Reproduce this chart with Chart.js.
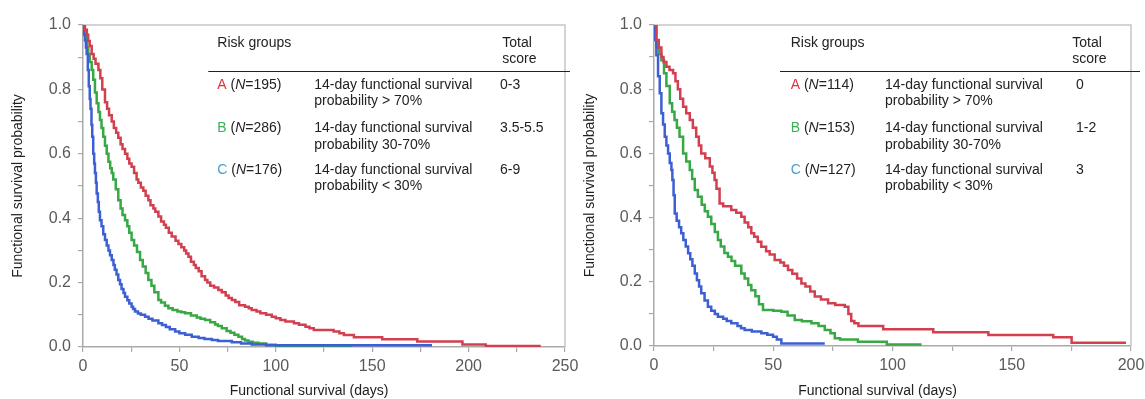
<!DOCTYPE html>
<html><head><meta charset="utf-8">
<script src="https://cdn.jsdelivr.net/npm/chart.js@4.4.1/dist/chart.umd.min.js"></script>
<style>
html,body{margin:0;padding:0;background:#fff;overflow:hidden}
#wrap{position:relative;width:1145px;height:399px}
canvas{position:absolute;top:0}
</style></head>
<body><div id="wrap">
<canvas id="c1" width="590" height="399" style="left:0;width:590px;height:399px"></canvas>
<canvas id="c2" width="573" height="399" style="left:572px;width:573px;height:399px"></canvas>
</div>
<script>
// ---- data: [days, survival probability] step points ----
const leftA = [[0,1],[1,0.985],[2,0.97],[2.7,0.95],[3.5,0.935],[4.5,0.91],[5.5,0.895],[6.5,0.88],[8,0.86],[9,0.835],
 [10,0.8],[11.4,0.76],[12.5,0.74],[13.5,0.72],[14.9,0.7],[16,0.68],[17.2,0.665],[18.3,0.65],[19.5,0.63],[20.5,0.615],
 [21.8,0.6],[23,0.585],[24,0.57],[25.2,0.56],[26.5,0.54],[27.8,0.52],[28.7,0.51],[30,0.495],[31.3,0.485],[32.5,0.47],
 [33.9,0.456],[35,0.44],[36.5,0.43],[37.5,0.42],[39.1,0.405],[40.5,0.39],[42,0.38],[43,0.37],[44.5,0.355],[46,0.343],
 [48,0.33],[49.5,0.32],[51,0.31],[52.5,0.3],[53.5,0.29],[54.7,0.28],[56,0.265],[57.5,0.255],[58.5,0.245],[60,0.235],
 [61.5,0.22],[63.3,0.208],[64.5,0.2],[66,0.19],[68,0.185],[70.2,0.177],[72,0.17],[74,0.16],[75.5,0.152],[77.2,0.146],
 [79,0.14],[81,0.13],[84,0.125],[86,0.12],[87.5,0.115],[90,0.11],[92,0.105],[95,0.1],[97.9,0.094],[100,0.089],
 [102.4,0.084],[105,0.079],[109.4,0.074],[112,0.069],[115.4,0.063],[117.5,0.058],[119.7,0.053],[130,0.048],[133,0.043],[135.3,0.037],
 [140.5,0.03],[155.2,0.024],[173.4,0.017],[196.8,0.008],[208.9,0.003],[237.4,0.003]];
const leftB = [[0,1],[0.8,0.97],[1.5,0.95],[2.2,0.93],[2.75,0.91],[3.5,0.885],[4.5,0.86],[5.3,0.83],[6.2,0.79],[7.1,0.757],
 [8,0.73],[8.8,0.705],[9.6,0.68],[10.5,0.653],[11.4,0.625],[12.3,0.6],[13.2,0.575],[14.1,0.555],[14.9,0.54],[15.7,0.52],
 [17,0.49],[18.3,0.456],[19.5,0.43],[20.5,0.41],[21.8,0.394],[23,0.375],[24,0.355],[25.2,0.332],[26.5,0.315],[28,0.295],
 [29.6,0.27],[31,0.25],[32.5,0.23],[33.9,0.208],[35.5,0.19],[37,0.17],[39.1,0.146],[40.5,0.138],[42.5,0.128],[44.3,0.12],
 [46.5,0.115],[49,0.11],[51,0.108],[53,0.105],[56,0.098],[59,0.092],[61,0.088],[63.3,0.084],[66,0.077],[68.5,0.07],
 [70,0.065],[72,0.058],[74.5,0.05],[76.5,0.044],[78.5,0.038],[80.6,0.032],[82.5,0.025],[84,0.02],[85.8,0.016],[88,0.013],
 [91,0.011],[95,0.007],[100,0.0035],[139.7,0.0035]];
const leftC = [[0,1],[0.5,0.97],[1,0.953],[1.5,0.93],[1.9,0.91],[2.5,0.86],[3,0.81],[3.5,0.77],[3.9,0.74],[4.4,0.69],
 [4.8,0.653],[5.3,0.6],[5.8,0.57],[6.2,0.54],[6.7,0.51],[7.1,0.477],[7.7,0.45],[8.2,0.42],[8.8,0.394],[9.6,0.375],
 [10.5,0.35],[11.4,0.332],[12.3,0.315],[13.2,0.3],[14,0.285],[14.9,0.27],[15.8,0.255],[16.5,0.24],[17.4,0.225],[18.3,0.208],
 [19.2,0.195],[20,0.18],[21,0.168],[21.8,0.156],[23,0.145],[24,0.135],[25.2,0.125],[26,0.118],[27,0.11],[28.5,0.104],
 [30,0.1],[32.2,0.094],[34,0.088],[36,0.082],[39.1,0.074],[41,0.068],[43,0.062],[45,0.055],[47.8,0.048],[50,0.043],
 [53,0.038],[56.4,0.032],[60,0.028],[63,0.025],[66.8,0.022],[70,0.019],[77.2,0.015],[82,0.011],[87.5,0.008],[95,0.0057],
 [181,0.0057]];
const rightA = [[0,1],[1,0.953],[2,0.93],[3.1,0.9],[4,0.885],[5.2,0.87],[6.5,0.86],[8,0.85],[9,0.825],[10,0.8],
 [11,0.77],[12.2,0.745],[13.5,0.725],[15,0.704],[16.3,0.68],[17.7,0.652],[18.8,0.625],[19.8,0.6],[21.5,0.585],[23.4,0.559],
 [24.5,0.54],[25.4,0.517],[26.2,0.49],[27.5,0.444],[29,0.435],[32.4,0.424],[34.5,0.415],[36.6,0.403],[38,0.385],[39.5,0.37],
 [40.8,0.351],[42,0.34],[43.5,0.325],[45,0.309],[47,0.295],[48.5,0.285],[50.6,0.268],[53,0.26],[54.5,0.25],[56.2,0.237],
 [58,0.225],[60,0.21],[61.8,0.195],[63.5,0.185],[65.5,0.17],[67.4,0.154],[70,0.145],[73,0.133],[76,0.128],[80,0.122],
 [81.5,0.1],[82.7,0.078],[84,0.071],[85.7,0.062],[96.1,0.052],[117.1,0.043],[140.2,0.034],[167.4,0.027],[175.1,0.01],[197.9,0.01]];
const rightB = [[0,1],[1,0.93],[2,0.91],[3.1,0.89],[4.2,0.85],[5.2,0.81],[6.6,0.756],[7.6,0.73],[8.6,0.704],[9.6,0.68],
 [10.7,0.652],[12.2,0.6],[13.5,0.575],[15,0.548],[16,0.52],[17.1,0.486],[18.4,0.465],[20,0.44],[21.3,0.42],[22.6,0.403],
 [24,0.38],[25.5,0.355],[26.8,0.33],[28,0.31],[29.5,0.29],[31,0.278],[32.5,0.265],[34,0.25],[36.6,0.226],[38,0.21],
 [39.5,0.19],[40.8,0.174],[42.5,0.155],[44,0.13],[45.7,0.112],[50,0.11],[53.4,0.107],[56,0.095],[59,0.081],[62,0.077],
 [66,0.071],[69,0.062],[71.6,0.05],[74,0.04],[75.8,0.024],[78,0.02],[85.5,0.013],[97.6,0.005],[112.2,0.005]];
const rightC = [[0,1],[0.3,0.953],[1,0.906],[1.7,0.84],[2.4,0.787],[3.1,0.725],[3.8,0.69],[4.5,0.652],[5.2,0.625],[5.9,0.6],
 [6.6,0.57],[7.3,0.548],[7.7,0.517],[8.2,0.47],[8.7,0.413],[9.5,0.39],[10.5,0.37],[11.4,0.351],[12.3,0.33],[13.3,0.31],
 [14.3,0.289],[15.2,0.27],[16.1,0.25],[17.1,0.226],[18,0.205],[18.9,0.185],[19.8,0.164],[21.2,0.142],[22.6,0.122],[24,0.11],
 [25.5,0.1],[26.8,0.091],[29,0.085],[30.5,0.078],[32.4,0.071],[35,0.062],[36.5,0.055],[38,0.05],[41,0.045],[45,0.04],
 [47.5,0.035],[49.9,0.029],[51.5,0.02],[53.4,0.008],[71.6,0.008]];

const groupLetters = ['A','B','C'];
const leftN = [195,286,176];
const rightN = [114,153,127];
const descLine1 = '14-day functional survival';
const descLine2 = ['probability > 70%','probability 30-70%','probability < 30%'];
const leftScores = ['0-3','3.5-5.5','6-9'];
const rightScores = ['0','1-2','3'];
const leftXMax = 250, rightXMax = 200;
const yTitle = 'Functional survival probability';
const xTitle = 'Functional survival (days)';

// ---- styles ----
const curveColors = ['#d23f4f','#37a845','#3c5fd4'];
const letterColors = ['#e0323c','#3aae5c','#4a9fd0'];
const FONT = '"Liberation Sans", Arial, sans-serif';
const textColor = '#222';

function pts(arr){ return arr.map(p => ({x:p[0], y:p[1]})); }

function tablePlugin(cfg){
  return {
    id:'riskTable',
    afterDraw(chart){
      const ctx = chart.ctx;
      ctx.save();
      ctx.textBaseline = 'middle';
      ctx.textAlign = 'left';
      const f = '14px ' + FONT;
      ctx.font = f; ctx.fillStyle = textColor;
      ctx.fillText('Risk groups', cfg.c1, 43.3);
      ctx.fillText('Total', cfg.c3h, 43.3);
      ctx.fillText('score', cfg.c3h, 59.5);
      ctx.strokeStyle = '#222'; ctx.lineWidth = 1.2;
      ctx.beginPath(); ctx.moveTo(cfg.l0, 71.5); ctx.lineTo(cfg.l1, 71.5); ctx.stroke();
      const rows = [[85,101.6],[128.3,144.8],[170.2,186.6]];
      for (let i=0;i<3;i++){
        let x = cfg.c1; const y = rows[i][0];
        ctx.font = f; ctx.fillStyle = letterColors[i];
        ctx.fillText(groupLetters[i], x, y); x += ctx.measureText(groupLetters[i]).width;
        ctx.fillStyle = textColor;
        ctx.fillText(' (', x, y); x += ctx.measureText(' (').width;
        ctx.font = 'italic 14px ' + FONT;
        ctx.fillText('N', x, y); x += ctx.measureText('N').width;
        ctx.font = f;
        ctx.fillText('=' + cfg.n[i] + ')', x, y);
        ctx.fillText(descLine1, cfg.c2, y);
        ctx.fillText(descLine2[i], cfg.c2, rows[i][1]);
        ctx.fillText(cfg.scores[i], cfg.c3, y);
      }
      // x axis title
      const ca = chart.chartArea;
      ctx.font = '14px ' + FONT; ctx.fillStyle = textColor; ctx.textAlign = 'center';
      ctx.fillText(xTitle, (ca.left + ca.right)/2 - 15, 391);
      ctx.restore();
    }
  };
}

const framePlugin = {
  id:'frame',
  beforeDatasetsDraw(chart){
    const {ctx, chartArea:ca} = chart;
    ctx.save();
    ctx.strokeStyle = '#c6c6c6'; ctx.lineWidth = 1.5;
    ctx.beginPath();
    ctx.moveTo(ca.left, ca.top); ctx.lineTo(ca.right, ca.top); ctx.lineTo(ca.right, ca.bottom);
    ctx.stroke();
    ctx.restore();
  }
};

function makeChart(id, series, xMax, yW, xH, padRight, table){
  const order = [0,2,1]; // A on top, then C, then B
  const datasets = order.map(i => ({
    data: pts(series[i]),
    borderColor: curveColors[i],
    borderWidth: 2.5,
    pointRadius: 0,
    stepped: true,
    fill: false,
    tension: 0
  }));
  return new Chart(document.getElementById(id), {
    type:'line',
    data:{datasets},
    options:{
      responsive:false, animation:false, devicePixelRatio:1,
      layout:{padding:{top:25,left:0,right:padRight,bottom:0}},
      plugins:{legend:{display:false}, tooltip:{enabled:false}},
      scales:{
        x:{
          type:'linear', min:0, max:xMax,
          border:{display:true, color:'#aaaaaa', width:1.5},
          grid:{drawOnChartArea:false, drawTicks:true, tickLength:5, color:'#aaaaaa', lineWidth:1.2},
          ticks:{stepSize:25, autoSkip:false, maxRotation:0, padding:5, color:'#5a5a5a',
                 font:{family:FONT, size:16},
                 callback:v => (Math.round(v) % 50 === 0 ? String(Math.round(v)) : '')},
          afterFit(s){ s.height = xH; s.paddingLeft = 0; s.paddingRight = 0; }
        },
        y:{
          type:'linear', min:0, max:1,
          border:{display:true, color:'#aaaaaa', width:1.5},
          grid:{drawOnChartArea:false, drawTicks:true, tickLength:5, color:'#aaaaaa', lineWidth:1.2},
          ticks:{stepSize:0.1, autoSkip:false, padding:7, color:'#5a5a5a',
                 font:{family:FONT, size:16},
                 callback:v => (Math.round(v*10) % 2 === 0 ? v.toFixed(1) : '')},
          title:{display:true, text:yTitle, color:textColor, font:{family:FONT, size:14}, padding:{top:10,bottom:0}},
          afterFit(s){ s.width = yW; s.paddingTop = 0; s.paddingBottom = 0; }
        }
      }
    },
    plugins:[framePlugin, tablePlugin(table)]
  });
}

makeChart('c1', [leftA, leftB, leftC], leftXMax, 83, 52, 25,
  {c1:217.3, c2:314.3, c3:500, c3h:502.3, l0:208.3, l1:570, n:leftN, scores:leftScores});
makeChart('c2', [rightA, rightB, rightC], rightXMax, 82, 53, 14,
  {c1:218.7, c2:313, c3:504, c3h:500.3, l0:208, l1:568, n:rightN, scores:rightScores});
</script>
</body></html>
